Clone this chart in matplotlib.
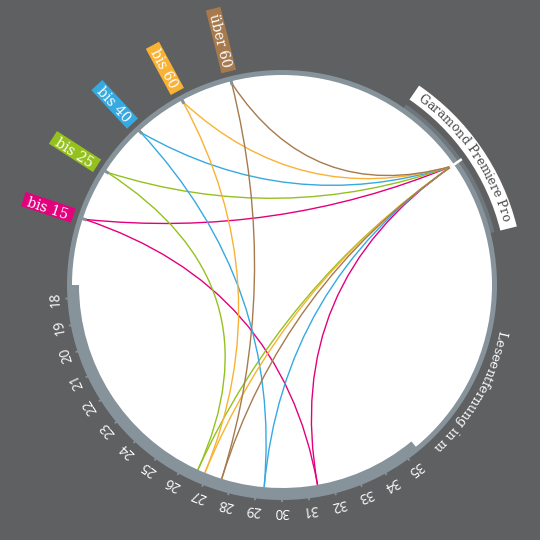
import numpy as np
import matplotlib
matplotlib.use("Agg")
import matplotlib.pyplot as plt
from matplotlib.patches import Wedge, Circle, PathPatch, Polygon
from matplotlib.path import Path
from matplotlib.font_manager import FontProperties, findfont
from matplotlib.ft2font import FT2Font

# ---------------- data ----------------
groups = ["bis 15", "bis 25", "bis 40", "bis 60", "über 60"]
group_colors = ["#e4007c", "#95c11f", "#36a9e1", "#f9b233", "#a67a4d"]
reading_distance = [31.4, 26.6, 29.3, 26.9, 27.6]
font_label = "Garamond Premiere Pro"
axis_title = "Leseentfernung in m"
tick_values = list(range(18, 36))

# ---------------- style ----------------
BG = "#5f6062"
RING = "#87939b"
RING_DARK = "#6f777c"
SERIF = "DejaVu Serif"
SANS = "Open Sans"

fig = plt.figure(figsize=(5.4, 5.4), dpi=100)
fig.patch.set_facecolor(BG)
ax = fig.add_axes([0, 0, 1, 1])
ax.set_xlim(0, 540)
ax.set_ylim(0, 540)
ax.set_aspect("equal")
ax.axis("off")

cx, cy = 282, 255


def pol(r, a):
    t = np.radians(a)
    return np.array([cx + r * np.cos(t), cy + r * np.sin(t)])


def group_angle(i):
    return 161.6 - 14.4 * i


def dist_angle(d):
    return 183.6 + 7.2 * (d - 18)


G_ANGLE = 35.0

# white disc
ax.add_patch(Circle((cx, cy), 211, facecolor="white", edgecolor="none", zorder=1))


def chord(p0, p2, k, color):
    m = (p0 + p2) / 2
    c = np.array([cx, cy])
    q = c + k * (m - c)
    path = Path([p0, q, p2], [Path.MOVETO, Path.CURVE3, Path.CURVE3])
    ax.add_patch(PathPatch(path, facecolor="none", edgecolor=color, lw=1.0, zorder=2))


gpt = pol(207, G_ANGLE)
for i, (g, col, d) in enumerate(zip(groups, group_colors, reading_distance)):
    a = group_angle(i)
    pa = pol(208, a)
    pd = pol(203, dist_angle(d))
    chord(pa, gpt, 0.5, col)
    chord(pa, pd, 0.0, col)
    chord(gpt, pd, 0.0, col)

# rings
ax.add_patch(Wedge((cx, cy), 215, 0, 360, width=5, facecolor=RING, edgecolor="none", zorder=3))
ax.add_patch(Wedge((cx, cy), 214, 180, 309.6, width=11, facecolor=RING, edgecolor="none", zorder=3))
ax.add_patch(Wedge((cx, cy), 219, 14, 55.5, width=5, facecolor=RING_DARK, edgecolor="none", zorder=2.9))

# distance ticks and labels
for v in tick_values:
    a = dist_angle(v)
    p1, p2 = pol(213, a), pol(217, a)
    ax.plot([p1[0], p2[0]], [p1[1], p2[1]], color=RING, lw=1.3, solid_capstyle="butt", zorder=3)
    p = pol(226.5, a)
    ax.text(p[0], p[1], str(v), rotation=a - 90, ha="center", va="center",
            rotation_mode="anchor", color="white", fontsize=9.8, family=SANS, zorder=5)

# group ticks
for i in range(len(groups)):
    a = group_angle(i)
    p1, p2 = pol(206, a), pol(211, a)
    ax.plot([p1[0], p2[0]], [p1[1], p2[1]], color=RING, lw=2.2, solid_capstyle="butt", zorder=3)

# garamond white tick
p1, p2 = pol(205, G_ANGLE), pol(219.5, G_ANGLE)
ax.plot([p1[0], p2[0]], [p1[1], p2[1]], color="white", lw=1.8, solid_capstyle="butt", zorder=4)


def advances(s, size, family):
    fp = FontProperties(family=family, size=size)
    f = FT2Font(findfont(fp))
    f.set_size(size, 100)
    return [f.load_char(ord(ch)).linearHoriAdvance / 65536.0 for ch in s]


def curved_text(s, r, center_angle, size, color, family, z):
    adv = advances(s, size, family)
    total = sum(adv)
    start = center_angle + np.degrees(total / 2 / r)
    cum = 0.0
    for ch, w in zip(s, adv):
        a = start - np.degrees((cum + w / 2) / r)
        cum += w
        if ch == " ":
            continue
        p = pol(r, a)
        ax.text(p[0], p[1], ch, rotation=a - 90, ha="center", va="baseline",
                rotation_mode="anchor", color=color, fontsize=size, family=family, zorder=z)


# Garamond label box
ax.add_patch(Wedge((cx, cy), 242, 14, 55.5, width=17, facecolor="white", edgecolor="none", zorder=4))
curved_text(font_label, 229.5, 34.9, 8.8, "#4a4a4a", SERIF, 5)

# axis title
curved_text(axis_title, 221, 330.6, 9.3, "white", SERIF, 5)

# group labels (radial boxes)
for i, (g, col) in enumerate(zip(groups, group_colors)):
    a = group_angle(i)
    size = 10
    L = sum(advances(g, size, SERIF))
    pad = 5
    r0, r1 = 220, 220 + L + 2 * pad
    hw = 7.5
    t = np.radians(a)
    u = np.array([np.cos(t), np.sin(t)])
    n = np.array([-np.sin(t), np.cos(t)])
    c0, c1 = np.array([cx, cy]) + r0 * u, np.array([cx, cy]) + r1 * u
    poly = [c0 + hw * n, c1 + hw * n, c1 - hw * n, c0 - hw * n]
    ax.add_patch(Polygon(poly, closed=True, facecolor=col, edgecolor="none", zorder=4))
    pm = (c0 + c1) / 2
    ax.text(pm[0], pm[1], g, rotation=a - 180, ha="center", va="center_baseline",
            rotation_mode="anchor", color="white", fontsize=size, family=SERIF, zorder=5)

fig.savefig("out.png", dpi=100, facecolor=BG)
